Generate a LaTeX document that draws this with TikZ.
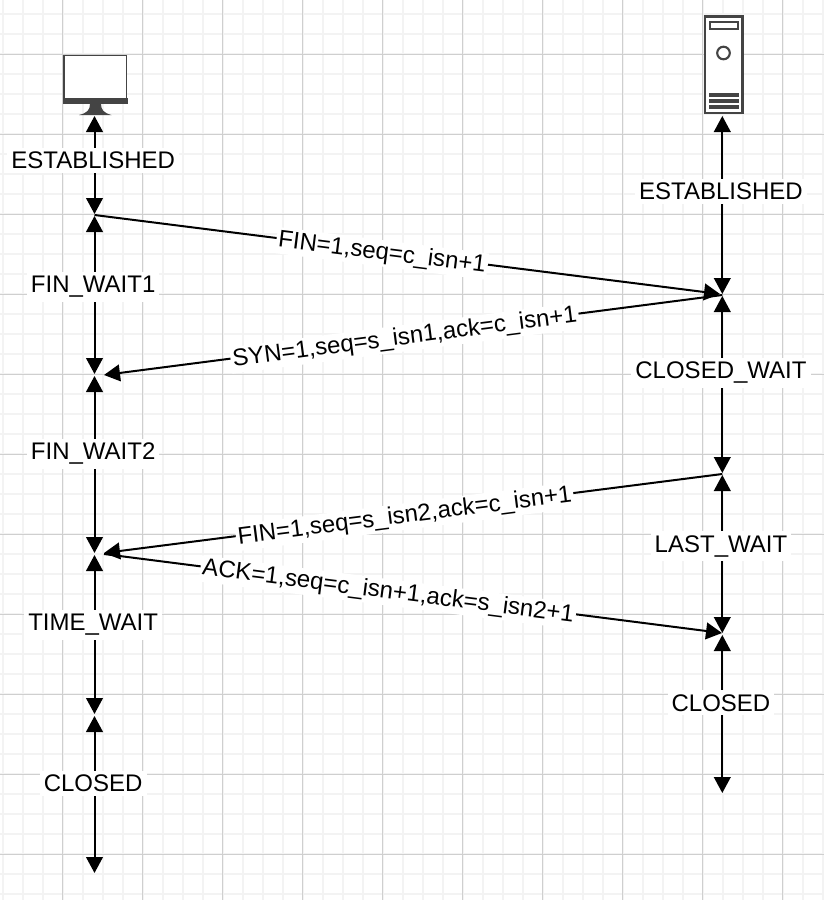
\documentclass[tikz,border=0pt]{standalone}
\usepackage{fontspec}
\setmainfont{Liberation Sans}
\usetikzlibrary{arrows.meta}
\definecolor{icon}{HTML}{444444}
\definecolor{gridminor}{HTML}{F3F3F3}
\definecolor{gridmajor}{HTML}{CFCFCF}
\tikzset{
  flow/.style={line width=1.5pt,-{Triangle[length=12pt,width=12.5pt]}},
  both/.style={line width=1.5pt,{Triangle[length=12pt,width=12.5pt]}-{Triangle[length=12pt,width=12.5pt]}},
  statelabel/.style={fill=white,inner sep=3pt,text=black,xshift=-1pt,font=\fontsize{18}{20}\selectfont},
  msg/.style={fill=white,inner sep=1.5pt,text=black,font=\fontsize{18}{20}\selectfont,sloped},
  iconline/.style={draw=icon,fill=white}
}
\begin{document}
\begin{tikzpicture}[x=0.75pt,y=-0.75pt]
\useasboundingbox (0,0) rectangle (824,900);
\fill[white] (0,0) rectangle (824,900);
\foreach \k in {0,...,41} \draw[gridminor,line width=1.4pt] ({2.7+20*\k},0) -- ({2.7+20*\k},900);
\foreach \k in {0,...,44} \draw[gridminor,line width=1.4pt] (0,{14+20*\k}) -- (824,{14+20*\k});
\foreach \k in {0,...,10} \draw[gridmajor,line width=0.75pt] ({62.7+80*\k},0) -- ({62.7+80*\k},900);
\foreach \k in {0,...,10} \draw[gridmajor,line width=0.75pt] (0,{54+80*\k}) -- (824,{54+80*\k});
% monitor
\draw[iconline,line width=1pt] (64,55.5) rectangle (126.7,99);
\fill[icon] (63,98) rectangle (127.5,104);
\fill[icon] (90,104) -- (101,104) .. controls (101,110) and (104,113) .. (111.5,115) -- (79,115) .. controls (87,113) and (90,110) .. (90,104) -- cycle;
% server
\draw[iconline,line width=2.2pt] (705,16.5) rectangle (742.5,113);
\draw[icon,line width=1.5pt] (709.5,22) rectangle (738,29);
\draw[icon,line width=1.6pt] (723.5,53) circle (6.3);
\fill[icon] (708.5,92.5) rectangle (738.5,96.5);
\fill[icon] (708.5,98.5) rectangle (738.5,102.5);
\fill[icon] (708.5,105) rectangle (738.5,109);
% anchors
\coordinate (pc) at (94.5,116);
\coordinate (a1) at (94.5,214);
\coordinate (a1b) at (94.5,216);
\coordinate (a2) at (94.5,374);
\coordinate (a2b) at (94.5,376);
\coordinate (a3) at (94.5,553);
\coordinate (a3b) at (94.5,555);
\coordinate (a4) at (94.5,714);
\coordinate (a4b) at (94.5,716);
\coordinate (a5) at (94.5,873);
\coordinate (srv) at (722.3,116);
\coordinate (b1) at (722.3,294);
\coordinate (b1b) at (722.3,296);
\coordinate (b2) at (722.3,473);
\coordinate (b2b) at (722.3,475);
\coordinate (b3) at (722.3,633);
\coordinate (b3b) at (722.3,635);
\coordinate (b4) at (722.3,793);
\coordinate (m1s) at (94.5,215);
\coordinate (m1e) at (720,294);
\coordinate (m2s) at (722.3,295);
\coordinate (m2e) at (104,375);
\coordinate (m3s) at (722.3,474);
\coordinate (m3e) at (104,553);
\coordinate (m4s) at (104,554);
\coordinate (m4e) at (722,633);
% lifelines
\draw[both] (pc) -- node[statelabel,pos=0.45] {ESTABLISHED} (a1);
\draw[both] (a1b) -- node[statelabel,pos=0.45] {FIN\_WAIT1} (a2);
\draw[both] (a2b) -- node[statelabel,pos=0.44] {FIN\_WAIT2} (a3);
\draw[both] (a3b) -- node[statelabel,pos=0.44] {TIME\_WAIT} (a4);
\draw[both] (a4b) -- node[statelabel,pos=0.43] {CLOSED} (a5);
\draw[both] (srv) -- node[statelabel,pos=0.425] {ESTABLISHED} (b1);
\draw[both] (b1b) -- node[statelabel,pos=0.435] {CLOSED\_WAIT} (b2);
\draw[both] (b2b) -- node[statelabel,pos=0.45] {LAST\_WAIT} (b3);
\draw[both] (b3b) -- node[statelabel,pos=0.43] {CLOSED} (b4);
% messages
\draw[flow] (m1s) -- node[msg,pos=0.46,yshift=-1.5pt] {FIN=1,seq=c\_isn+1} (m1e);
\draw[flow] (m2s) -- node[msg,pos=0.514,yshift=-1.5pt] {SYN=1,seq=s\_isn1,ack=c\_isn+1} (m2e);
\draw[flow] (m3s) -- node[msg,pos=0.514,yshift=-1.5pt] {FIN=1,seq=s\_isn2,ack=c\_isn+1} (m3e);
\draw[flow] (m4s) -- node[msg,pos=0.46,yshift=-1.5pt] {ACK=1,seq=c\_isn+1,ack=s\_isn2+1} (m4e);
\end{tikzpicture}
\end{document}
